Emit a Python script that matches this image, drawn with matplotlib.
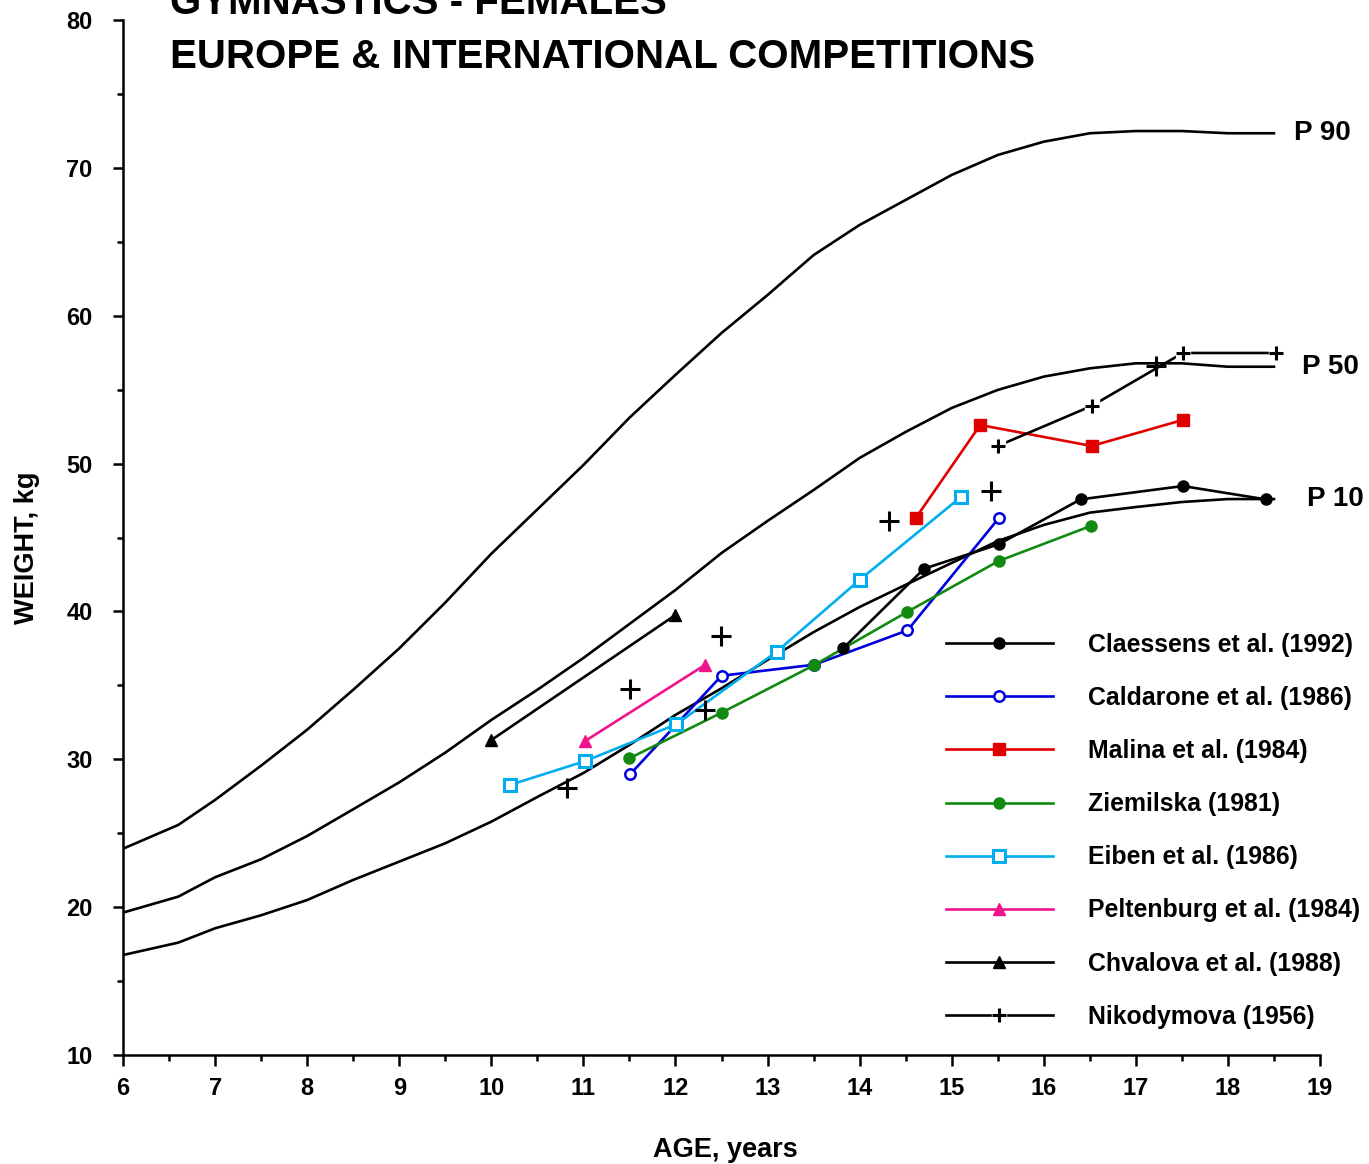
import numpy as np
import matplotlib.pyplot as plt
from matplotlib.ticker import MultipleLocator

plt.rcParams['font.family'] = ['Liberation Sans', 'DejaVu Sans']
plt.rcParams['font.weight'] = 'bold'

# reference percentile curves (age in years, weight in kg)
ref_age = [6, 6.6, 7, 7.5, 8, 8.5, 9, 9.5, 10, 10.5, 11, 11.5, 12, 12.5, 13,
           13.5, 14, 14.5, 15, 15.5, 16, 16.5, 17, 17.5, 18, 18.5]
p90 = [23.95, 25.56, 27.25, 29.57, 32.0, 34.7, 37.5, 40.6, 43.9, 46.9, 49.9,
       53.1, 56.0, 58.83, 61.4, 64.1, 66.14, 67.83, 69.52, 70.87, 71.77,
       72.34, 72.49, 72.49, 72.34, 72.34]
p50 = [19.63, 20.71, 22.02, 23.24, 24.81, 26.62, 28.44, 30.45, 32.66, 34.7,
       36.85, 39.15, 41.45, 43.95, 46.12, 48.21, 50.38, 52.14, 53.76, 54.98,
       55.88, 56.44, 56.78, 56.78, 56.55, 56.55]
p10 = [16.76, 17.6, 18.57, 19.45, 20.48, 21.84, 23.08, 24.32, 25.78, 27.45,
       29.07, 30.97, 33.0, 34.8, 36.72, 38.6, 40.3, 41.8, 43.28, 44.76, 45.85,
       46.68, 47.06, 47.4, 47.6, 47.6]

# gymnast samples
claessens_age = [13.82, 14.70, 15.51, 16.40, 17.51, 18.41]
claessens_wt = [37.5, 42.89, 44.54, 47.58, 48.48, 47.58]

caldarone_age = [11.51, 12.5, 13.51, 14.52, 15.51]
caldarone_wt = [29.0, 35.65, 36.4, 38.72, 46.3]

malina_age = [14.61, 15.31, 16.52, 17.51]
malina_wt = [46.32, 52.61, 51.19, 52.95]

ziemilska_age = [11.5, 12.5, 13.51, 14.52, 15.51, 16.51]
ziemilska_wt = [30.07, 33.15, 36.38, 39.98, 43.41, 45.78]

eiben_age = [10.2, 11.02, 12.01, 13.1, 14.0, 15.1]
eiben_wt = [28.26, 29.88, 32.37, 37.28, 42.13, 47.74]

peltenburg_age = [11.02, 12.32]
peltenburg_wt = [31.24, 36.38]

chvalova_age = [10.0, 12.0]
chvalova_wt = [31.3, 39.76]

nikodymova_age = [15.5, 16.52, 17.51, 18.52]
nikodymova_wt = [51.19, 53.9, 57.48, 57.48]

# unconnected crosses
cross_age = [10.82, 11.51, 12.32, 12.49, 14.32, 15.43, 17.22]
cross_wt = [28.06, 34.75, 33.33, 38.34, 46.12, 48.15, 56.6]

fig = plt.figure(figsize=(13.69, 11.64), dpi=100)
ax = fig.add_axes([123/1369, 1-1055/1164, (1320-123)/1369, (1055-20)/1164])

lw = 1.9
for curve in (p90, p50, p10):
    ax.plot(ref_age, curve, color='black', lw=lw, zorder=2)

ax.text(18.72, p90[-1], 'P 90', fontsize=20, fontweight='bold', va='center')
ax.text(18.8, p50[-1], 'P 50', fontsize=20, fontweight='bold', va='center')
ax.text(18.86, p10[-1], 'P 10', fontsize=20, fontweight='bold', va='center')

handles = []
h, = ax.plot(claessens_age, claessens_wt, color='black', lw=lw, marker='o',
             ms=8, zorder=4)
handles.append(h)
h, = ax.plot(caldarone_age, caldarone_wt, color='#0000DD', lw=lw, marker='o',
             ms=7.5, mfc='white', mew=1.8, zorder=3)
handles.append(h)
h, = ax.plot(malina_age, malina_wt, color='#E00000', lw=lw, marker='s',
             ms=8.5, zorder=3)
handles.append(h)
h, = ax.plot(ziemilska_age, ziemilska_wt, color='#128A12', lw=lw, marker='o',
             ms=8, zorder=3)
handles.append(h)
h, = ax.plot(eiben_age, eiben_wt, color='#00AEEF', lw=lw, marker='s',
             ms=8, mfc='white', mew=2.2, zorder=3)
handles.append(h)
h, = ax.plot(peltenburg_age, peltenburg_wt, color='#F0148C', lw=lw, marker='^',
             ms=8.5, zorder=3)
handles.append(h)
h, = ax.plot(chvalova_age, chvalova_wt, color='black', lw=lw, marker='^',
             ms=8.5, zorder=3)
handles.append(h)

nl, = ax.plot(nikodymova_age, nikodymova_wt, color='black', lw=lw, zorder=3)
nw, = ax.plot(nikodymova_age, nikodymova_wt, ls='none', marker='s', ms=10,
              mfc='white', mec='white', zorder=3.5)
npl, = ax.plot(nikodymova_age, nikodymova_wt, ls='none', marker='+', ms=10,
               mew=2.2, color='black', zorder=3.6)
handles.append((nl, nw, npl))

ax.plot(cross_age, cross_wt, ls='none', marker='+', ms=15, mew=2.2,
        color='black', zorder=3.6)

labels = ['Claessens et al. (1992)', 'Caldarone et al. (1986)',
          'Malina et al. (1984)', 'Ziemilska (1981)', 'Eiben et al. (1986)',
          'Peltenburg et al. (1984)', 'Chvalova et al. (1988)',
          'Nikodymova (1956)']
fig.legend(handles, labels, loc='upper left',
           bbox_to_anchor=(946/1369, 1-633/1164), frameon=False,
           prop={'size': 17.9, 'weight': 'bold'}, numpoints=1,
           handlelength=4.3, handletextpad=1.4, labelspacing=1.17,
           borderpad=0, borderaxespad=0)

ax.set_xlim(6, 19)
ax.set_ylim(10, 80)
ax.xaxis.set_major_locator(MultipleLocator(1))
ax.xaxis.set_minor_locator(MultipleLocator(0.5))
ax.yaxis.set_major_locator(MultipleLocator(10))
ax.yaxis.set_minor_locator(MultipleLocator(5))
ax.tick_params(axis='x', which='major', length=8, width=1.8, labelsize=17, pad=8)
ax.tick_params(axis='x', which='minor', length=4.5, width=1.8)
ax.tick_params(axis='y', which='major', length=7, width=1.8, labelsize=17, pad=15)
ax.tick_params(axis='y', which='minor', length=4, width=1.8)
for t in ax.get_xticklabels() + ax.get_yticklabels():
    t.set_fontweight('bold')
for s in ('top', 'right'):
    ax.spines[s].set_visible(False)
for s in ('left', 'bottom'):
    ax.spines[s].set_linewidth(1.8)

fig.text(725/1369, 1-1150/1164, 'AGE, years', fontsize=19.5, fontweight='bold',
         ha='center', va='center')
fig.text(27/1369, 1-548/1164, 'WEIGHT, kg', fontsize=19.5, fontweight='bold',
         ha='center', va='center', rotation=90)

fig.text(170/1369, 1-14/1164, 'GYMNASTICS - FEMALES', fontsize=29,
         fontweight='bold', ha='left', va='baseline')
fig.text(170/1369, 1-68/1164, 'EUROPE & INTERNATIONAL COMPETITIONS', fontsize=29,
         fontweight='bold', ha='left', va='baseline')

fig.savefig('out.png', dpi=100)
